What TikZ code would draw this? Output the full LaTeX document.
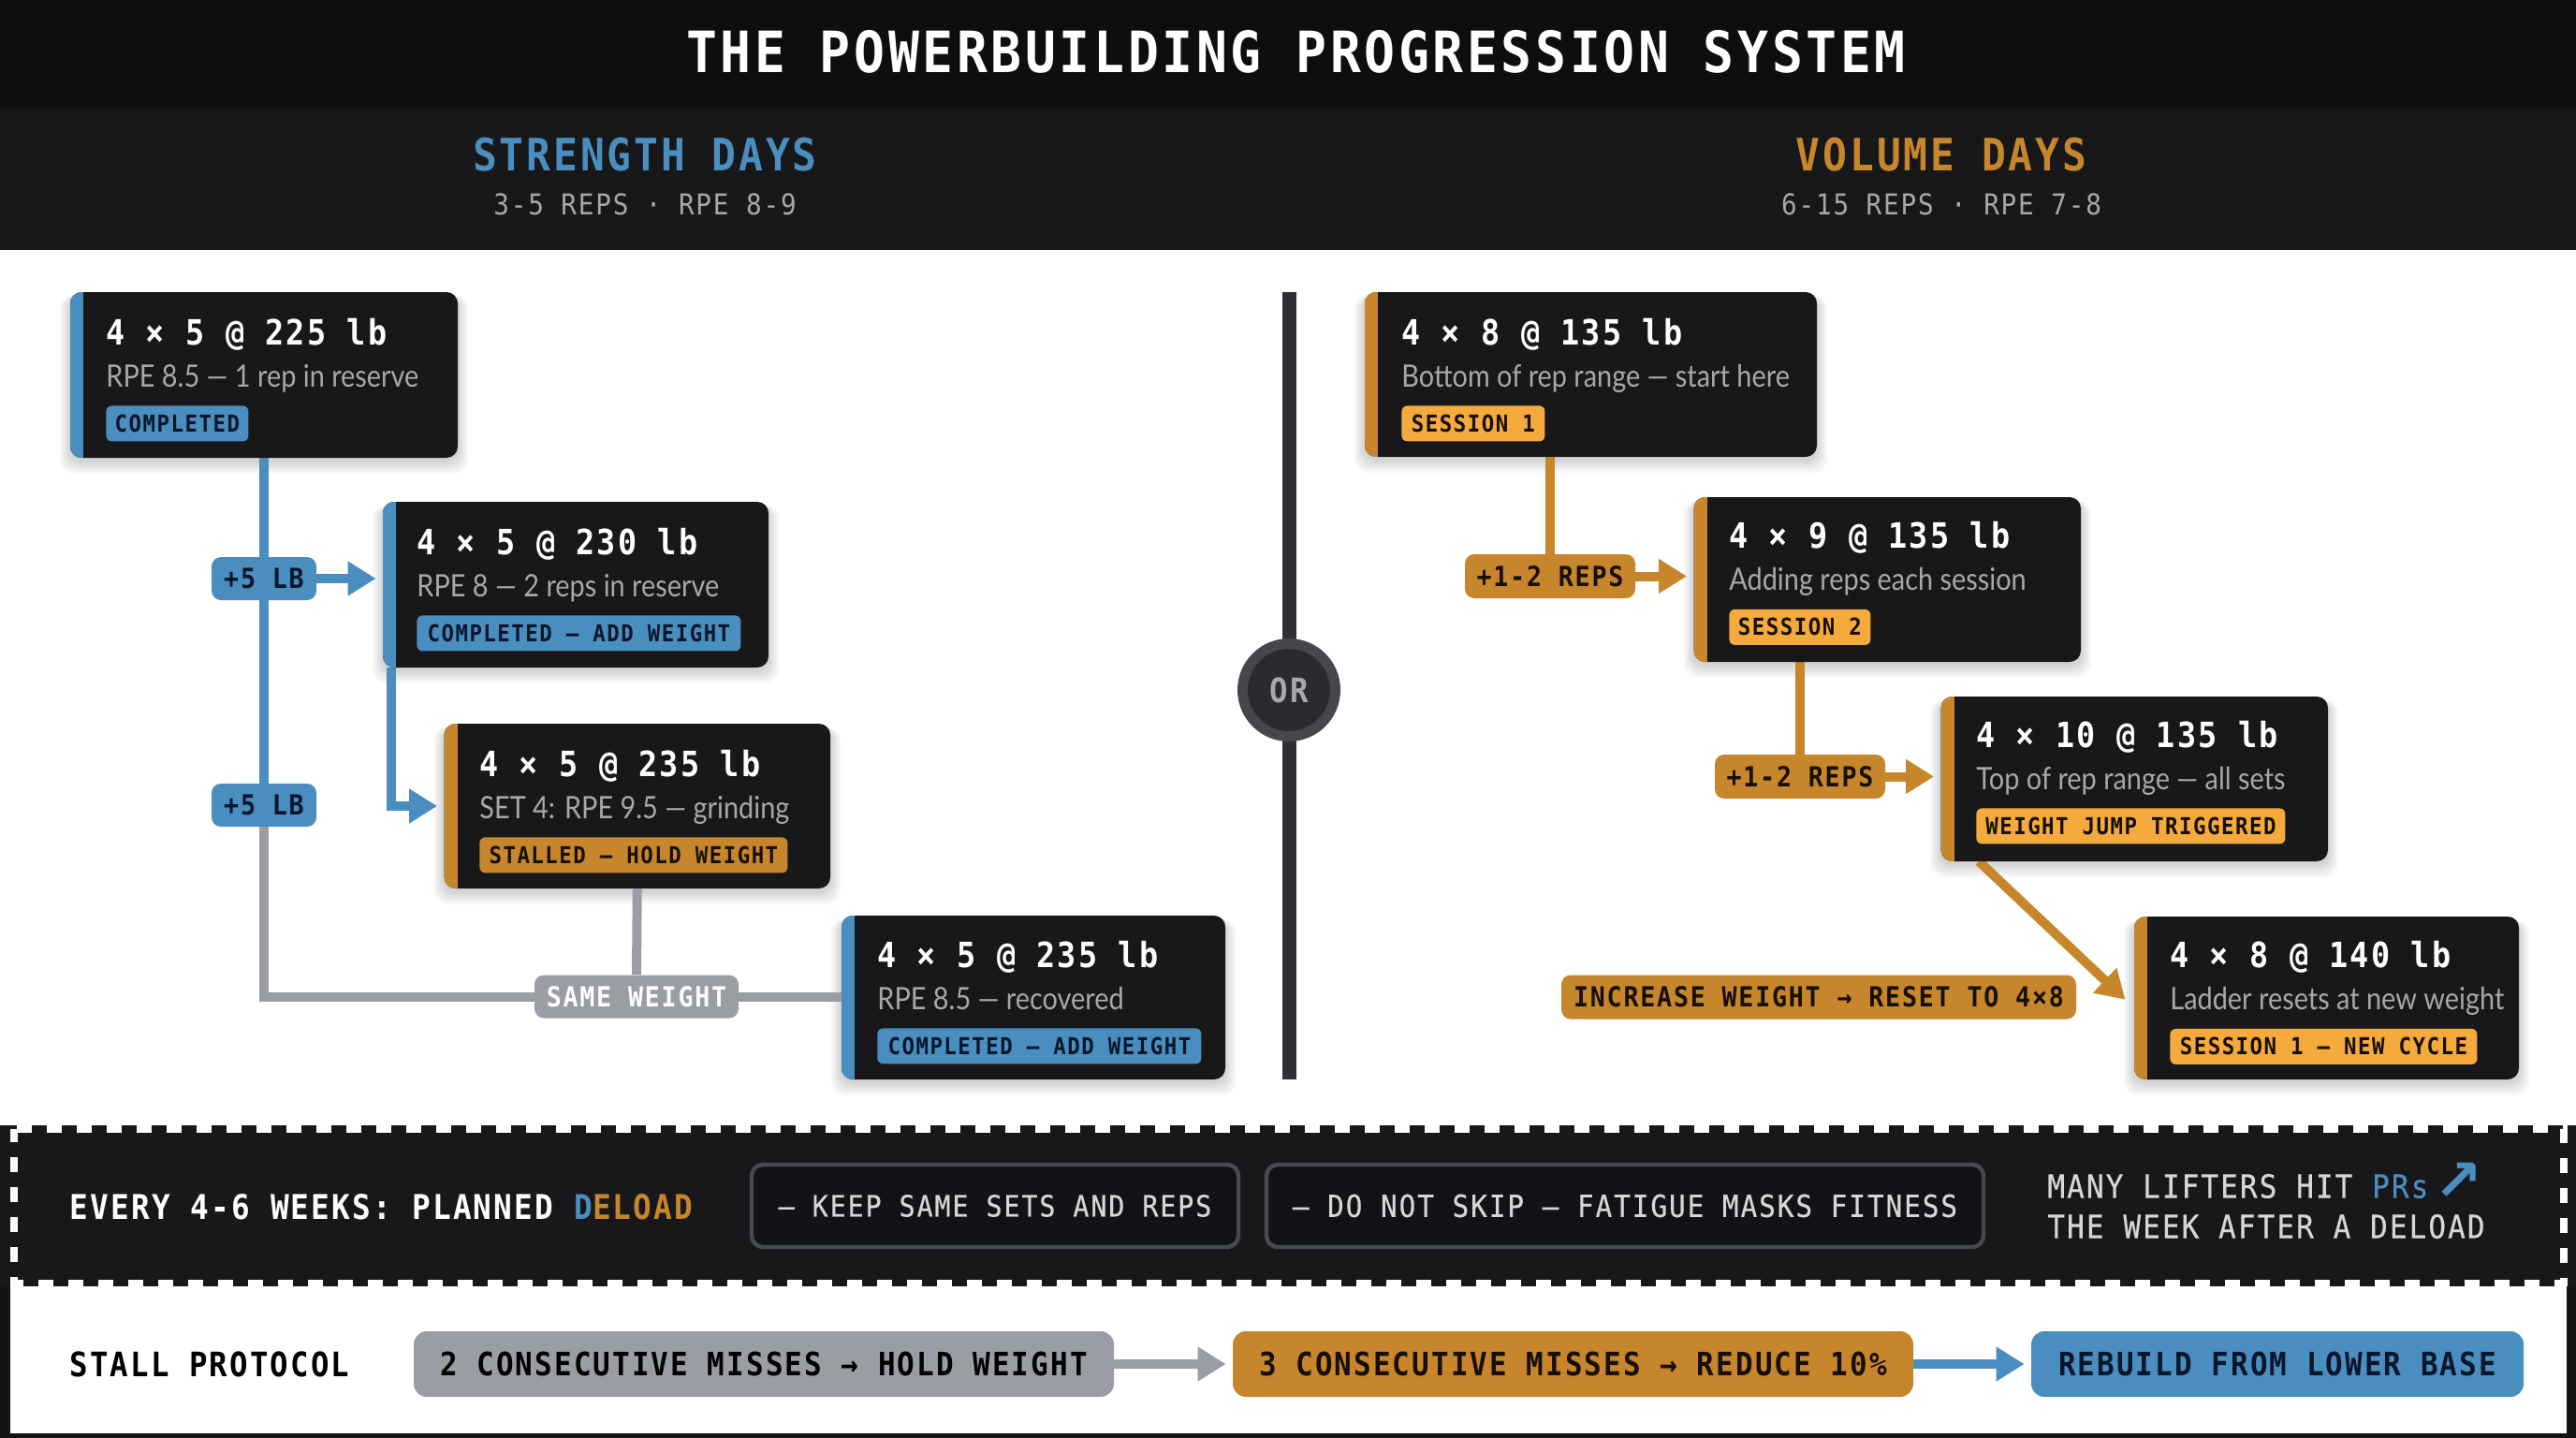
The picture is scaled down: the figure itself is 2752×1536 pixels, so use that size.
\documentclass[tikz,border=0pt]{standalone}
\usepackage{fontspec}
\usetikzlibrary{arrows.meta,calc,backgrounds}
\newfontfamily\monof[FakeStretch=0.9,LetterSpace=6]{DejaVu Sans Mono}
\newfontfamily\monom[FakeStretch=0.9,LetterSpace=6,FakeBold=0.35]{DejaVu Sans Mono}
\newfontfamily\subf[FakeStretch=0.875]{Lato}
\newfontfamily\symf{DejaVu Sans}
\pgfdeclarelayer{shadowlayer}
\pgfdeclarelayer{connlayer}
\pgfsetlayers{shadowlayer,connlayer,main}
\definecolor{cardfill}{HTML}{18181B}
\definecolor{topband}{HTML}{0E0E11}
\definecolor{subband}{HTML}{18181B}
\definecolor{bluec}{HTML}{4A8DBF}
\definecolor{orangec}{HTML}{C7862B}
\definecolor{ambert}{HTML}{F4AA3D}
\definecolor{grayc}{HTML}{9A9DA3}
\definecolor{navyt}{HTML}{08162B}
\definecolor{brownt}{HTML}{170F04}
\definecolor{subgray}{HTML}{A8A8A8}
\definecolor{lightt}{HTML}{D6D6D6}
\definecolor{ringc}{HTML}{45474C}
\definecolor{discc}{HTML}{2A2B30}
\definecolor{divc}{HTML}{2E3035}
\definecolor{boxedge}{HTML}{484A52}
\definecolor{boxfill}{HTML}{121316}
\newcommand{\fs}[1]{\fontsize{#1pt}{#1pt}\selectfont}
\tikzset{
  cardbox/.style={rectangle,fill=cardfill,rounded corners=6pt,inner sep=0pt},
  ttl/.style={anchor=base west,inner sep=0pt,text=white,font=\monof\bfseries\fs{18.6}},
  sbt/.style={anchor=base west,inner sep=0pt,text=subgray,font=\subf\fs{16.5}},
  tagb/.style={anchor=north west,inner sep=0pt,rounded corners=3pt,minimum height=19pt,font=\monof\bfseries\fs{12.45}},
  tagblue/.style={tagb,fill=bluec,text=navyt},
  tagorange/.style={tagb,fill=orangec,text=brownt},
  tagamber/.style={tagb,fill=ambert,text=brownt},
  lab/.style={rectangle,inner sep=0pt,rounded corners=5pt,font=\monof\bfseries\fs{14.8}},
  labblue/.style={lab,fill=bluec,text=navyt},
  laborange/.style={lab,fill=orangec,text=brownt},
  labgray/.style={lab,fill=grayc,text=white},
  conn/.style={line width=5pt},
  arr/.style={line width=5pt,-{Triangle[length=15pt,width=17.5pt]},shorten >=3.5pt},
  hdr/.style={inner sep=0pt,font=\monof\bfseries},
  hsub/.style={inner sep=0pt,text=subgray,font=\monof\fs{15.35}},
  stallbox/.style={rectangle,inner sep=0pt,rounded corners=7pt,minimum height=35pt,font=\monof\bfseries\fs{17.2}},
  deloadbox/.style={rectangle,inner sep=0pt,draw=boxedge,line width=2.2pt,fill=boxfill,rounded corners=6pt,minimum height=44pt,text=lightt},
}
% name, x1, y1, x2, y2, stripe colour
\newcommand{\cardbox}[6]{%
  \begin{pgfonlayer}{shadowlayer}
    \foreach \s in {1,...,7}{
      \fill[black,opacity=0.022,rounded corners=7pt] ({#2-\s*1.6},{#3+4}) rectangle ({#4+\s*1.6},{#5+3+\s*2});
    }
  \end{pgfonlayer}
  \node[cardbox,minimum width={(#4-#2)*0.5pt},minimum height={(#5-#3)*0.5pt}] (#1) at ({(#2+#4)/2},{(#3+#5)/2}) {};
  \begin{scope}
    \clip[rounded corners=6pt] (#2,#3) rectangle (#4,#5);
    \fill[#6] (#2,#3) rectangle ({#2+14},#5);
  \end{scope}
}
% name, text x, text reference y, title, sub, tag x2, tag text, tag style
\newcommand{\cardtext}[8]{%
  \node[ttl] (#1title) at (#2,{#3+56}) {#4};
  \node[sbt] (#1sub) at (#2,{#3+101}) {#5};
  \node[#8,minimum width={(#6-#2)*0.5pt}] (#1tag) at (#2,{#3+121}) {#7};
}
\begin{document}
\begin{tikzpicture}[x=0.5pt,y=-0.5pt]
\useasboundingbox (0,0) rectangle (2752,1536);
\begin{pgfonlayer}{shadowlayer}
\fill[white] (0,0) rectangle (2752,1536);
\end{pgfonlayer}
% header
\fill[topband] (0,0) rectangle (2752,116);
\fill[subband] (0,116) rectangle (2752,267);
\node[hdr,text=white,font=\monof\bfseries\fs{30.4}] (maintitle) at (1384.5,55) {THE POWERBUILDING PROGRESSION SYSTEM};
\node[hdr,text=bluec,font=\monof\bfseries\fs{23.85}] (strhead) at (689,165) {STRENGTH DAYS};
\node[hsub] (strsub) at (689,218.5) {3-5 REPS · RPE 8-9};
\node[hdr,text=orangec,font=\monof\bfseries\fs{23.85}] (volhead) at (2074,165) {VOLUME DAYS};
\node[hsub] (volsub) at (2074,218.5) {6-15 REPS · RPE 7-8};

% divider
\coordinate (divtop) at (1377,312);
\coordinate (divbot) at (1377,1153);
\draw[divc,line width=7.5pt] (divtop) -- (divbot);
\node[circle,fill=discc,draw=ringc,line width=5.5pt,minimum size=49.5pt,inner sep=0pt,text=subgray,font=\monof\bfseries\fs{18}] (ornode) at (1377,737) {OR};

% strength cards
\cardbox{sa}{75}{312}{489}{489}{bluec}
\cardtext{sa}{113}{312}{4 × 5 @ 225 lb}{RPE 8.5 — 1 rep in reserve}{265}{COMPLETED}{tagblue}
\cardbox{sb}{409}{536}{821}{713}{bluec}
\cardtext{sb}{445}{536}{4 × 5 @ 230 lb}{RPE 8 — 2 reps in reserve}{791}{COMPLETED – ADD WEIGHT}{tagblue}
\cardbox{sc}{474.5}{773}{887}{949}{orangec}
\cardtext{sc}{512}{773}{4 × 5 @ 235 lb}{SET 4: RPE 9.5 — grinding}{841}{STALLED – HOLD WEIGHT}{tagorange}
\cardbox{sd}{899}{978}{1309}{1153}{bluec}
\cardtext{sd}{937}{977}{4 × 5 @ 235 lb}{RPE 8.5 — recovered}{1283}{COMPLETED – ADD WEIGHT}{tagblue}
% volume cards
\cardbox{va}{1458}{312}{1941}{488}{orangec}
\cardtext{va}{1497}{312}{4 × 8 @ 135 lb}{Bottom of rep range — start here}{1650}{SESSION 1}{tagamber}
\cardbox{vb}{1809.5}{531}{2223}{707}{orangec}
\cardtext{vb}{1847}{529.5}{4 × 9 @ 135 lb}{Adding reps each session}{1998}{SESSION 2}{tagamber}
\cardbox{vc}{2073.5}{744}{2487}{920}{orangec}
\cardtext{vc}{2111}{742}{4 × 10 @ 135 lb}{Top of rep range — all sets}{2441}{WEIGHT JUMP TRIGGERED}{tagamber}
\cardbox{vd}{2280}{979}{2691}{1153}{orangec}
\cardtext{vd}{2318}{977.5}{4 × 8 @ 140 lb}{Ladder resets at new weight}{2646}{SESSION 1 – NEW CYCLE}{tagamber}

% labels
\node[labblue,minimum width=56pt,minimum height=23pt] (lbla) at (282,618) {+5 LB};
\node[labblue,minimum width=56pt,minimum height=23pt] (lblb) at (282,860) {+5 LB};
\node[labgray,minimum width=109pt,minimum height=23pt] (lblsame) at (680,1064.5) {SAME WEIGHT};
\node[laborange,minimum width=91pt,minimum height=23.5pt] (lblva) at (1656,615.5) {+1-2 REPS};
\node[laborange,minimum width=91pt,minimum height=23.5pt] (lblvb) at (1923,829.5) {+1-2 REPS};
\node[laborange,minimum width=275pt,minimum height=23.5pt] (lblreset) at (1943,1065) {INCREASE WEIGHT → RESET TO 4×8};

% connectors
\coordinate (sbdown) at (418,713);
\coordinate (diagstart) at (2114,920);
\coordinate (diagend) at (2275.5,1072.5);
\begin{pgfonlayer}{connlayer}
  \draw[conn,bluec] (sa.south) -- (lbla.north);
  \draw[conn,bluec] (lbla.south) -- (lblb.north);
  \draw[arr,bluec] (lbla.east) -- (lbla.east -| sb.west);
  \draw[arr,bluec] (sbdown) |- (sc.west);
  \draw[conn,grayc] (lblb.south) |- (lblsame.west);
  \draw[conn,grayc] (sc.south) -- (lblsame.north);
  \draw[conn,grayc] (lblsame.east) -- (lblsame.east -| sd.west);
  \draw[conn,orangec] (va.south -| lblva.north) -- (lblva.north);
  \draw[arr,orangec] (lblva.east) -- (lblva.east -| vb.west);
  \draw[conn,orangec] (vb.south -| lblvb.north) -- (lblvb.north);
  \draw[arr,orangec] (lblvb.east) -- (lblvb.east -| vc.west);
  \draw[arr,orangec] (diagstart) -- (diagend);
\end{pgfonlayer}

% deload band
\fill[cardfill] (0,1202) rectangle (2752,1374);
\draw[white,line width=3.6pt,dash pattern=on 8pt off 8pt] (18,1206) -- (2739,1206) -- (2739,1370.5) -- (15,1370.5) -- (15,1206);
\node[anchor=west,inner sep=0pt,text=white,font=\monof\bfseries\fs{18.2}] (deloadtxt) at (74,1289) {EVERY 4-6 WEEKS: PLANNED \textcolor{bluec}{D}\textcolor{orangec}{ELOAD}};
\node[deloadbox,minimum width=260pt,font=\monom\fs{15.75}] (dbox) at (1063,1288) {– KEEP SAME SETS AND REPS};
\node[deloadbox,minimum width=383pt,font=\monom\fs{16.3}] (dboxb) at (1736,1288) {– DO NOT SKIP – FATIGUE MASKS FITNESS};
\node[anchor=west,inner sep=0pt,text=lightt,font=\monom\fs{17.25}] (prline) at (2187,1267) {MANY LIFTERS HIT \textcolor{bluec}{PRs}};
\node[anchor=west,inner sep=0pt,text=bluec,font=\symf\bfseries\fs{31}] (prarrow) at (2600,1262) {↗};
\node[anchor=west,inner sep=0pt,text=lightt,font=\monom\fs{17.25}] (weekline) at (2187,1310) {THE WEEK AFTER A DELOAD};

% stall protocol
\fill[black!92] (0,1374) rectangle (11,1536);
\fill[black!92] (2742,1374) rectangle (2752,1536);
\fill[black!92] (0,1531) rectangle (2752,1536);
\node[anchor=west,inner sep=0pt,text=black,font=\monof\bfseries\fs{18}] (stallhead) at (74,1457) {STALL PROTOCOL};
\node[stallbox,fill=grayc,text=black,minimum width=374pt] (sta) at (816,1457) {2 CONSECUTIVE MISSES → HOLD WEIGHT};
\node[stallbox,fill=orangec,text=brownt,minimum width=363.5pt] (stb) at (1680.5,1457) {3 CONSECUTIVE MISSES → REDUCE 10\%};
\node[stallbox,fill=bluec,text=navyt,minimum width=263pt] (stc) at (2433,1457) {REBUILD FROM LOWER BASE};
\begin{pgfonlayer}{connlayer}
  \draw[arr,grayc] (sta.east) -- (stb.west);
  \draw[arr,bluec] (stb.east) -- (stc.west);
\end{pgfonlayer}
\end{tikzpicture}
\end{document}
